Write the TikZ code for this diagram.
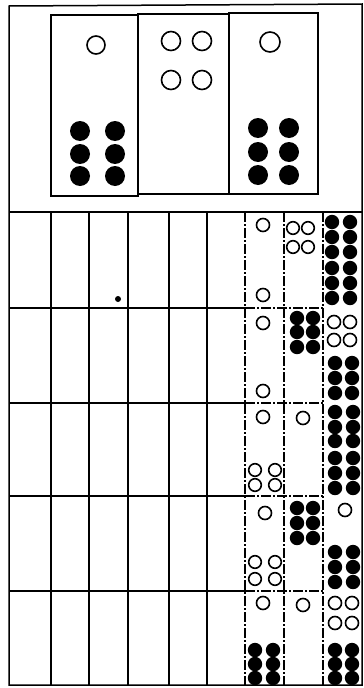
\documentclass[tikz,border=0pt]{standalone}
\begin{document}
\begin{tikzpicture}[x=1pt,y=-1pt,
  frame/.style={line width=1.5pt,black},
  thin/.style={line width=1.3pt,black},
  dashline/.style={line width=1.3pt,black,dash pattern=on 10pt off 2pt on 2pt off 2pt},
  hole/.style={line width=1.6pt,black,fill=white},
  stone/.style={fill=black}]
\useasboundingbox (0,0) rectangle (364,688);
\fill[white] (0,0) rectangle (364,688);
% outer frame
\draw[frame] (9,6) -- (362,4) -- (362,685) -- (9,685) -- cycle;
\draw[frame] (9,212) -- (362,212);
% top panel boxes
\draw[thin] (51,15) rectangle (138,196);
\draw[thin] (138,14) rectangle (229,194);
\draw[thin] (229,13) rectangle (318,194);
% top panel circles
\draw[hole] (96,45) circle (9);
\foreach \x in {80,115} \foreach \y in {131,154,176} \fill[stone] (\x,\y) circle (10);
\foreach \x in {171,202} \foreach \y in {41,80} \draw[hole] (\x,\y) circle (9.5);
\draw[hole] (270,42) circle (10);
\foreach \x in {258,289} \foreach \y in {128,152,175} \fill[stone] (\x,\y) circle (10);
% grid vertical lines
\foreach \x in {51,89,128,169,207} \draw[thin] (\x,212) -- (\x,685);
\foreach \x in {245,284,323} \draw[dashline] (\x,212) -- (\x,685);
% grid horizontal lines
\foreach \y in {308,403,496,591} {
  \draw[thin] (9,\y) -- (245,\y);
  \draw[dashline] (245,\y) -- (323,\y);
}
% stray dot
\fill (118,299) circle (3);
% row 1
\draw[hole] (263,225) circle (6.5);
\draw[hole] (263,295) circle (6.5);
\foreach \x in {293,308} \foreach \y in {228,247} \draw[hole] (\x,\y) circle (6.3);
\foreach \x in {332,350} \foreach \y in {222,237,252,268,283,298} \fill[stone] (\x,\y) circle (7.2);
% row 2
\draw[hole] (263,323) circle (6.5);
\draw[hole] (263,391) circle (6.5);
\foreach \x in {297,313} \foreach \y in {318,332,347} \fill[stone] (\x,\y) circle (7.2);
\foreach \x in {334,350} \foreach \y in {322,340} \draw[hole] (\x,\y) circle (6.5);
\foreach \x in {335,352} \foreach \y in {363,378,393} \fill[stone] (\x,\y) circle (7.2);
% row 3
\draw[hole] (263,417) circle (6.5);
\foreach \x in {255,275} \foreach \y in {470,485} \draw[hole] (\x,\y) circle (6.3);
\draw[hole] (303,418) circle (6.5);
\foreach \x in {335,353} \foreach \y in {412,427,441,458,473,488} \fill[stone] (\x,\y) circle (7.2);
% row 4
\draw[hole] (265,513) circle (6.5);
\foreach \x in {255,275} \foreach \y in {562,579} \draw[hole] (\x,\y) circle (6.3);
\foreach \x in {297,313} \foreach \y in {508,523,538} \fill[stone] (\x,\y) circle (7.2);
\draw[hole] (345,510) circle (6.5);
\foreach \x in {335,353} \foreach \y in {552,567,582} \fill[stone] (\x,\y) circle (7.2);
% row 5
\draw[hole] (263,603) circle (6.5);
\foreach \x in {255,273} \foreach \y in {650,664,678} \fill[stone] (\x,\y) circle (7.2);
\draw[hole] (303,605) circle (6.5);
\foreach \x in {335,352} \foreach \y in {603,623} \draw[hole] (\x,\y) circle (6.5);
\foreach \x in {335,352} \foreach \y in {650,664,678} \fill[stone] (\x,\y) circle (7.2);
\end{tikzpicture}
\end{document}
